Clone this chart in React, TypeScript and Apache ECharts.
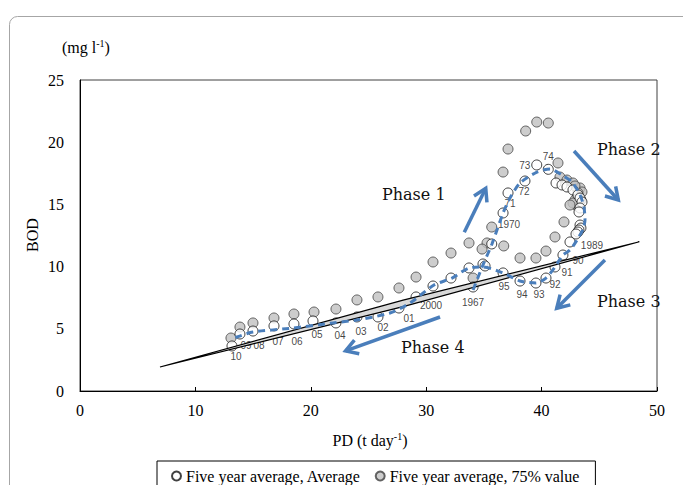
import { useEffect, useRef } from 'react';
import * as echarts from 'echarts';

const years = ['1967','1968','1969','1970','1971','1972','1973','1974','1975','1976','1977','1978','1979','1980','1981','1982','1983','1984','1985','1986','1987','1988','1989','1990','1991','1992','1993','1994','1995','1996','1997','1998','1999','2000','2001','2002','2003','2004','2005','2006','2007','2008','2009','2010'];

const yearLabels = ['1967','','','1970','71','72','73','74','','','','','','','','','','','','','','','1989','90','91','92','93','94','95','','','','','2000','01','02','03','04','05','06','07','08','09','10'];

const avgPD = [34.06,34.92,35.68,36.66,37.09,38.56,39.58,40.58,41.25,41.77,42.20,42.72,43.15,43.33,43.50,43.33,43.24,43.33,43.41,43.24,43.15,42.98,42.46,41.85,41.16,40.38,39.51,38.13,36.66,35.10,33.71,32.15,30.59,29.12,27.64,25.82,24.00,22.18,20.19,18.54,16.81,14.99,13.86,13.17];
const avgBOD = [8.36,10.21,11.82,14.31,15.92,16.88,18.17,17.82,16.72,16.56,16.40,16.16,15.76,15.51,15.19,14.71,14.39,13.34,13.10,12.94,12.78,12.62,11.98,10.93,9.97,9.08,8.68,8.84,9.49,10.05,9.89,9.08,8.44,7.56,6.67,5.95,5.95,5.47,5.63,5.39,5.23,4.82,4.58,3.62];

const p75PD = [34.06,35.27,35.68,36.66,37.09,38.62,39.58,40.58,41.42,41.59,42.20,42.72,43.33,43.50,43.15,43.41,43.15,42.89,43.24,43.07,42.89,42.72,42.46,41.94,41.16,40.38,39.51,38.13,36.72,34.84,33.71,32.15,30.59,29.12,27.64,25.82,24.00,22.18,20.28,18.54,16.81,14.99,13.86,13.08];
const p75BOD = [9.08,11.90,13.18,17.60,19.45,20.90,21.62,21.54,18.33,17.20,16.96,16.72,16.32,16.00,15.92,15.35,15.59,16.48,15.11,14.87,15.35,15.11,14.95,13.59,12.38,11.25,10.69,10.69,11.66,11.41,11.90,11.09,10.37,9.16,8.28,7.56,7.32,6.59,6.35,6.19,5.87,5.47,5.14,4.26];

// hand-drawn trend (dashed blue)
const trendPD = [34.06,34.92,35.70,36.66,37.26,38.13,39.60,40.73,41.77,42.63,43.33,43.67,43.76,43.59,43.07,42.46,41.85,41.16,40.38,39.51,38.13,36.66,34.92,33.71,32.24,30.68,28.60,26.86,24.00,21.92,18.46,14.99,13.60,13.08];
const trendBOD = [8.12,10.13,11.82,14.31,15.51,16.72,17.60,17.85,17.36,16.80,15.76,14.79,13.75,13.02,12.14,11.33,10.93,9.97,9.08,8.68,8.84,9.49,9.97,9.89,9.08,8.52,7.07,6.27,5.71,5.47,5.06,4.74,4.34,4.10];

// regression band (two black lines enclosing light grey)
const bandPD = [6.93,28,48.47,28];
const bandBOD = [1.93,7.30,12.0,6.78];

// phase arrows: [startPD, startBOD, tipPD, tipBOD]
const phaseArrows = [
  [33.30,12.76,35.16,16.29],
  [42.81,19.29,46.65,15.35],
  [45.49,10.53,41.31,6.65],
  [31.20,5.95,23.01,3.22],
];
const phaseNames = ['Phase 1','Phase 2','Phase 3','Phase 4'];

const xTicks = [0,10,20,30,40,50];
const yTicks = [0,5,10,15,20,25];

// label offsets (px) relative to the point
const labelOffsets: Record<string, number[]> = {
  '10':[4,11],'09':[6,11],'08':[6,14],'07':[4,16],'06':[3,18],'05':[4,14],'04':[4,13],'03':[4,15],'02':[5,11],'01':[10,10],
  '2000':[15,9],'1967':[0,15],'95':[1,14],'94':[2,13],'93':[3,11],'92':[9,6],'91':[12,6],'90':[15,5],'1989':[22,4],
  '1970':[6,12],'71':[2,11],'72':[-1,10],'73':[-12,1],'74':[0,-13],
};

const phaseTextPos = [[382,194],[597,149],[597,301],[401,347]];

const SERIF = '"Liberation Serif", "Times New Roman", serif';
const BLUE = '#4a7ebb';

export default function App() {
  const ref = useRef<HTMLDivElement>(null);
  useEffect(() => {
    if (!ref.current) return;
    const chart = echarts.init(ref.current, null, { renderer: 'svg' });
    const avgData = years.map((y, i) => {
      const lab = yearLabels[i];
      const item: any = { value: [avgPD[i], avgBOD[i]], name: y };
      if (lab) {
        item.label = { show: true, formatter: lab, position: 'inside', offset: labelOffsets[lab] || [0, 12], color: '#111' };
      }
      return item;
    });
    const p75Data = years.map((y, i) => ({ value: [p75PD[i], p75BOD[i]], name: y }));
    const trendData = trendPD.map((x, i) => [x, trendBOD[i]]);
    const bandPts = bandPD.map((x, i) => [x, bandBOD[i]]);

    chart.setOption({
      animation: false,
      grid: { left: 80, right: 26, top: 80, bottom: 94, show: true, borderColor: '#404040', borderWidth: 1 },
      legend: {
        left: 157, top: 461,
        data: ['Five year average, Average', 'Five year average, 75% value'],
        borderColor: '#000', borderWidth: 1, borderRadius: 0,
        padding: [7, 16, 12, 14], itemGap: 14, itemWidth: 9, itemHeight: 9, icon: 'circle',
        textStyle: { fontFamily: SERIF, fontSize: 16, color: '#000' },
      },
      xAxis: {
        type: 'value', min: xTicks[0], max: xTicks[xTicks.length - 1], interval: 10,
        splitLine: { show: false },
        axisLine: { show: true, lineStyle: { color: '#000', width: 1 } },
        axisTick: { show: true, inside: true, length: 4, lineStyle: { color: '#000' } },
        axisLabel: { margin: 11, fontFamily: SERIF, fontSize: 16, color: '#000' },
      },
      yAxis: {
        type: 'value', min: yTicks[0], max: yTicks[yTicks.length - 1], interval: 5,
        splitLine: { show: false },
        axisLine: { show: true, lineStyle: { color: '#000', width: 1 } },
        axisTick: { show: false },
        axisLabel: { margin: 16, fontFamily: SERIF, fontSize: 16, color: '#000' },
      },
      series: [
        {
          name: 'Five year average, 75% value', type: 'scatter', data: p75Data, symbolSize: 10, z: 2,
          itemStyle: { color: '#c0c0c0', borderColor: '#404040', borderWidth: 1 },
        },
        {
          name: 'Five year average, Average', type: 'scatter', data: avgData, symbolSize: 10, z: 3,
          itemStyle: { color: '#ffffff', borderColor: '#111', borderWidth: 1 },
          label: { fontFamily: '"Liberation Sans", Arial, sans-serif', fontSize: 10, color: '#111' },
        },
        {
          type: 'custom', z: 4, silent: true,
          data: [bandPts[0]],
          renderItem: (_p: any, api: any) => ({
            type: 'polygon',
            shape: { points: bandPts.map((p) => api.coord(p)) },
            style: { fill: '#d9d9d9', stroke: '#000', lineWidth: 1.2 },
          }),
        },
        {
          type: 'line', data: trendData, symbol: 'none', smooth: 0.25, z: 5, silent: true,
          lineStyle: { color: BLUE, width: 3, type: [7, 5] },
        },
      ],
    });

    const graphics: any[] = [];
    graphics.push({
      type: 'rect', z: -10, silent: true,
      shape: { x: 9.5, y: 16.5, width: 700, height: 500, r: 8 },
      style: { fill: 'none', stroke: '#a6a6a6', lineWidth: 1 },
    });
    graphics.push({
      type: 'text', x: 62, y: 47, z: 10,
      style: {
        text: '{b|(mg l}{s|-1}{b|)}', verticalAlign: 'middle', align: 'left',
        rich: {
          b: { fontFamily: SERIF, fontSize: 16, fill: '#000', lineHeight: 18 },
          s: { fontFamily: SERIF, fontSize: 10, fill: '#000', verticalAlign: 'top', lineHeight: 10 },
        },
      },
    });
    graphics.push({
      type: 'text', x: 370, y: 440, z: 10,
      style: {
        text: '{b|PD (t day}{s|-1}{b|)}', verticalAlign: 'middle', align: 'center',
        rich: {
          b: { fontFamily: SERIF, fontSize: 16, fill: '#000', lineHeight: 18 },
          s: { fontFamily: SERIF, fontSize: 10, fill: '#000', verticalAlign: 'top', lineHeight: 10 },
        },
      },
    });
    graphics.push({
      type: 'text', x: 32, y: 235, rotation: Math.PI / 2, z: 10,
      style: { text: 'BOD', fontFamily: SERIF, fontSize: 16, fill: '#000', align: 'center', verticalAlign: 'middle' },
    });
    phaseNames.forEach((n, i) => {
      graphics.push({
        type: 'text', x: phaseTextPos[i][0], y: phaseTextPos[i][1], z: 10,
        style: { text: n, fontFamily: '"DejaVu Serif", serif', fontSize: 16, fill: '#111', align: 'left', verticalAlign: 'middle' },
      });
    });
    phaseArrows.forEach((a) => {
      const s = chart.convertToPixel({ gridIndex: 0 }, [a[0], a[1]]) as number[];
      const t = chart.convertToPixel({ gridIndex: 0 }, [a[2], a[3]]) as number[];
      const ang = Math.atan2(s[1] - t[1], s[0] - t[0]);
      const L = 14, da = (31 * Math.PI) / 180;
      const p1 = [t[0] + L * Math.cos(ang + da), t[1] + L * Math.sin(ang + da)];
      const p2 = [t[0] + L * Math.cos(ang - da), t[1] + L * Math.sin(ang - da)];
      graphics.push({
        type: 'line', z: 10, silent: true,
        shape: { x1: s[0], y1: s[1], x2: t[0], y2: t[1] },
        style: { stroke: BLUE, lineWidth: 3.5 },
      });
      graphics.push({
        type: 'polyline', z: 10, silent: true,
        shape: { points: [p1, t, p2] },
        style: { stroke: BLUE, lineWidth: 3.5, fill: 'none', lineJoin: 'miter' },
      });
    });
    chart.setOption({ graphic: graphics });

    return () => chart.dispose();
  }, []);
  return <div ref={ref} style={{ position: 'absolute', left: 0, top: 0, width: 683, height: 485 }} />;
}
